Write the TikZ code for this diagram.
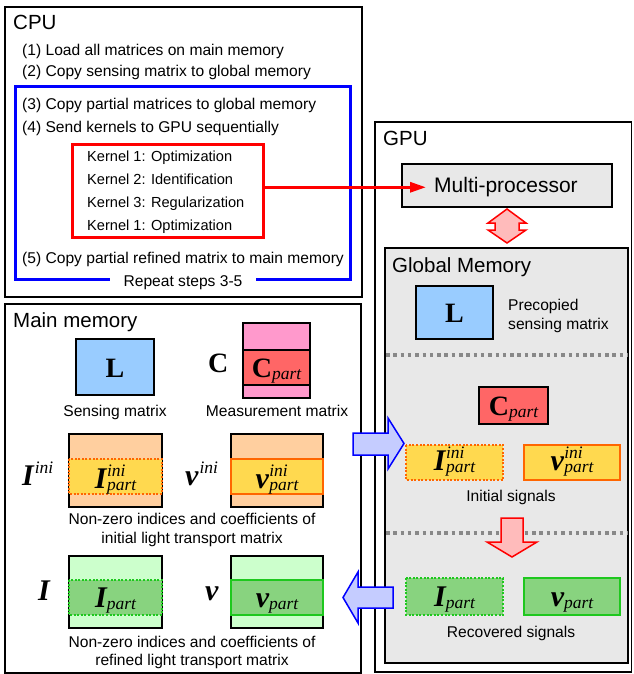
\documentclass[tikz,border=0pt]{standalone}
\usepackage{fontspec}
\setmainfont{Liberation Sans}
\newfontfamily\tms{Liberation Serif}
\usetikzlibrary{arrows.meta}
\definecolor{lblue}{HTML}{99CCFF}
\definecolor{pinkc}{HTML}{FF99CC}
\definecolor{redc}{HTML}{FF6666}
\definecolor{peach}{HTML}{FFCF9F}
\definecolor{yellowc}{HTML}{FFD94F}
\definecolor{orangec}{HTML}{FF6600}
\definecolor{lgreen}{HTML}{CCFFCC}
\definecolor{mgreen}{HTML}{88D37F}
\definecolor{greenc}{HTML}{1EC81E}
\definecolor{gmfill}{HTML}{E8E8E8}
\definecolor{bluearr}{HTML}{C5CCFF}
\definecolor{redarr}{HTML}{FFBBBB}
\definecolor{dashgray}{HTML}{888888}
\newcommand\Bsym[1]{{\fontsize{28}{28}\selectfont\tms\bfseries #1}}
\newcommand\Bit[1]{{\fontsize{30}{30}\selectfont\tms\bfseries\itshape #1}}
\newcommand\Scr[1]{{\fontsize{17.5}{17.5}\selectfont\tms\itshape #1}}
\newcommand\SupSub[3]{#1\kern0.5pt\rlap{\raisebox{12pt}{\Scr{#2}}}\raisebox{-2pt}{\Scr{#3}}}
\newcommand\SupOnly[2]{#1\kern1pt\raisebox{12pt}{\Scr{#2}}}
\newcommand\SubOnly[2]{#1\raisebox{-2pt}{\Scr{#2}}}
\begin{document}
\begin{tikzpicture}[x=1pt,y=-1pt,
  txt/.style={inner sep=0pt,font=\fontsize{15.6}{18}\selectfont},
  ktxt/.style={inner sep=0pt,font=\fontsize{14.6}{17}\selectfont},
  ttl/.style={inner sep=0pt,font=\fontsize{20.5}{24}\selectfont},
  sym/.style={inner sep=0pt},
  outer/.style={draw=black,line width=1.5pt},
  mat/.style={draw=black,line width=2pt},
  bandsolid/.style={line width=2pt},
  banddot/.style={line width=2pt,dash pattern=on 2pt off 1.6pt},
  fatarrow/.style={line width=1.5pt,line join=miter}
]
\useasboundingbox (0,0) rectangle (633,674);

% ---------- CPU ----------
\draw[outer] (5,7) rectangle (362,297);
\draw[blue,line width=3pt] (15,87) rectangle (350,279);
\node[txt,anchor=base,fill=white,inner xsep=14pt,inner ysep=3pt] (repeat) at (183,286) {Repeat steps 3-5};
\node[draw=red,line width=3pt,minimum width=191pt,minimum height=93pt,inner sep=0pt] (kern) at (167.5,190.5) {};

\node[ttl,anchor=base west] (cpu) at (13,30) {CPU};
\node[txt,anchor=base west] (s1) at (22,55.7) {(1) Load all matrices on main memory};
\node[txt,anchor=base west] (s2) at (22,76.3) {(2) Copy sensing matrix to global memory};
\node[txt,anchor=base west] (s3) at (22,109.3) {(3) Copy partial matrices to global memory};
\node[txt,anchor=base west] (s4) at (22,132.7) {(4) Send kernels to GPU sequentially};
\node[ktxt,anchor=base west] (k1) at (87,161) {Kernel 1: Optimization};
\node[ktxt,anchor=base west] (k2) at (87,184.3) {Kernel 2: Identification};
\node[ktxt,anchor=base west] (k3) at (87,207) {Kernel 3: Regularization};
\node[ktxt,anchor=base west] (k4) at (87,230.7) {Kernel 1: Optimization};
\node[txt,anchor=base west] (s5) at (22,263.3) {(5) Copy partial refined matrix to main memory};

% ---------- GPU ----------
\draw[outer] (375,122) rectangle (631.5,672);
\node[ttl,anchor=base west] (gpu) at (383,145) {GPU};
\draw[outer,fill=gmfill] (402,164) rectangle (612,207);
\node[inner sep=0pt,anchor=base west,font=\fontsize{21}{24}\selectfont] (mptext) at (434,192.7) {Multi-processor};
\draw[outer,fill=gmfill] (385,248) rectangle (628,663);
\node[ttl,anchor=base west] (gm) at (392,272) {Global Memory};
\draw[dashgray,line width=3.5pt,dash pattern=on 3.5pt off 3.8pt] (386,355) -- (627,355);
\draw[dashgray,line width=3.5pt,dash pattern=on 3.5pt off 3.8pt] (386,533) -- (627,533);

\draw[mat,fill=lblue] (416,286) rectangle (493,339);
\node[sym,anchor=base] (gL) at (454.5,322) {\Bsym{L}};
\node[txt,anchor=base west] (pre1) at (508,310) {Precopied};
\node[txt,anchor=base west] (pre2) at (508,329) {sensing matrix};

\draw[mat,fill=redc] (479,387) rectangle (548,424);
\node[sym,anchor=base] (gC) at (513.5,415) {\SubOnly{\Bsym{C}}{part}};

\draw[orangec,banddot,fill=yellowc] (406,445) rectangle (503,480);
\node[sym,anchor=base] (gIini) at (454.5,470) {\SupSub{\Bit{I}}{ini}{part}};
\draw[orangec,bandsolid,fill=yellowc] (524,445) rectangle (620,480);
\node[sym,anchor=base] (gvini) at (572,470) {\SupSub{\Bit{v}}{ini}{part}};
\node[txt,anchor=base] (initsig) at (511,501.7) {Initial signals};

\draw[greenc,banddot,fill=mgreen] (406,578) rectangle (503,615);
\node[sym,anchor=base] (gI) at (454.5,606) {\SubOnly{\Bit{I}}{part}};
\draw[greenc,bandsolid,fill=mgreen] (524,578) rectangle (620,615);
\node[sym,anchor=base] (gv) at (572,606) {\SubOnly{\Bit{v}}{part}};
\node[txt,anchor=base] (recsig) at (511,637.7) {Recovered signals};

% ---------- Main memory ----------
\draw[outer] (5,304) rectangle (361,673);
\node[ttl,anchor=base west] (mm) at (13,327) {Main memory};

\draw[mat,fill=lblue] (76,339) rectangle (154,395);
\node[sym,anchor=base] (mL) at (115,377) {\Bsym{L}};
\node[txt,anchor=base] (sens) at (115,416) {Sensing matrix};

\node[sym,anchor=base west] (mC) at (208,372) {\Bsym{C}};
\draw[mat,fill=pinkc] (243,323) rectangle (310,398);
\draw[mat,fill=redc] (243,350) rectangle (310,385);
\node[sym,anchor=base] (mCp) at (276.5,377) {\SubOnly{\Bsym{C}}{part}};
\node[txt,anchor=base] (meas) at (277,416) {Measurement matrix};

\node[sym,anchor=base west] (mIini) at (22,485) {\SupOnly{\Bit{I}}{ini}};
\draw[mat,fill=peach] (69,434) rectangle (162,507);
\draw[orangec,banddot,fill=yellowc] (69,459) rectangle (162,494);
\node[sym,anchor=base] (mIinip) at (115.5,488) {\SupSub{\Bit{I}}{ini}{part}};

\node[sym,anchor=base west] (mvini) at (185,485) {\SupOnly{\Bit{v}}{ini}};
\draw[mat,fill=peach] (231,434) rectangle (323,507);
\draw[orangec,bandsolid,fill=yellowc] (231,459) rectangle (323,494);
\node[sym,anchor=base] (mvinip) at (277,488) {\SupSub{\Bit{v}}{ini}{part}};

\node[txt,anchor=base] (nz1) at (192,524) {Non-zero indices and coefficients of};
\node[txt,anchor=base] (nz2) at (192,543) {initial light transport matrix};

\node[sym,anchor=base west] (mI) at (38,600) {\Bit{I}};
\draw[mat,fill=lgreen] (69,556) rectangle (162,628);
\draw[greenc,banddot,fill=mgreen] (69,580) rectangle (162,615);
\node[sym,anchor=base] (mIp) at (115.5,607) {\SubOnly{\Bit{I}}{part}};

\node[sym,anchor=base west] (mv) at (205,600) {\Bit{v}};
\draw[mat,fill=lgreen] (231,556) rectangle (323,628);
\draw[greenc,bandsolid,fill=mgreen] (231,580) rectangle (323,615);
\node[sym,anchor=base] (mvp) at (277,607) {\SubOnly{\Bit{v}}{part}};

\node[txt,anchor=base] (nz3) at (192,647) {Non-zero indices and coefficients of};
\node[txt,anchor=base] (nz4) at (192,665) {refined light transport matrix};

% ---------- arrows ----------
\draw[red,line width=3pt,-{Triangle[length=16pt,width=10pt]}] (kern.east |- mptext.west) -- ([xshift=-8pt]mptext.west);

\draw[fatarrow,draw=red,fill=redarr] (507,209) -- (526,223) -- (519,223) -- (519,230) -- (526,230) -- (507,243) -- (488,230) -- (495,230) -- (495,223) -- (488,223) -- cycle;
\draw[fatarrow,draw=red,fill=redarr] (501,518) -- (523,518) -- (523,542) -- (537,542) -- (512,557) -- (487,542) -- (501,542) -- cycle;

\draw[fatarrow,draw=blue,fill=bluearr] (353,433) -- (388,433) -- (388,418) -- (404,443.5) -- (388,469) -- (388,455) -- (353,455) -- cycle;
\draw[fatarrow,draw=blue,fill=bluearr] (393,587) -- (358,587) -- (358,572) -- (343,597.5) -- (358,623) -- (358,608) -- (393,608) -- cycle;
\end{tikzpicture}
\end{document}
